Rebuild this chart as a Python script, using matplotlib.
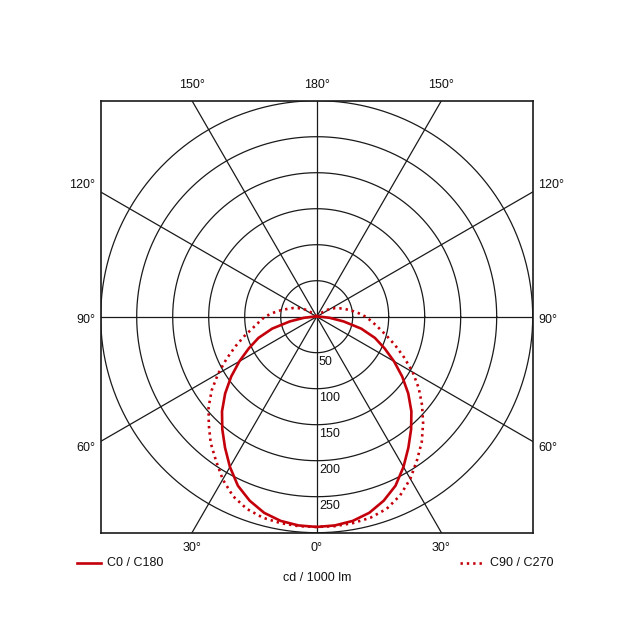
import numpy as np
import matplotlib
matplotlib.use("Agg")
import matplotlib.pyplot as plt

plt.rcParams['font.family'] = ['Liberation Sans', 'DejaVu Sans']

# ---- data (cd / 1000 lm), gamma angle from nadir ----
gamma_c0 = [0, 5, 10, 15, 20, 25, 30, 35, 40, 45, 50, 55, 60, 65, 70, 75, 80, 85, 90, 95]
c0_c180 = [292, 291, 288, 282, 272, 259, 241, 222, 204, 186, 166, 145, 124, 104, 86, 64, 38, 18, 5, 0]

gamma_c90 = [0, 5, 10, 15, 20, 25, 30, 35, 40, 45, 50, 55, 60, 65, 70, 75, 80, 85, 90,
             95, 100, 105, 110, 115, 120, 125, 130, 135, 140]
c90 = [292, 292, 291, 289, 284, 274, 260, 243, 227, 209, 191, 173, 154, 134, 116, 100, 87, 77, 68,
       58, 49, 41, 34, 28, 22, 15, 8, 3, 0]
c270 = [292, 292, 291, 289, 284, 275, 261, 244, 229, 212, 196, 178, 158, 138, 120, 104, 90, 80, 72,
        61, 51, 42, 35, 28, 22, 15, 8, 3, 0]

ring_values = [50, 100, 150, 200, 250, 300]
ring_labels = ["50", "100", "150", "200", "250"]
spoke_angles = [0, 30, 60, 90, 120, 150]
legend_labels = ["C0 / C180", "C90 / C270"]
unit_label = "cd / 1000 lm"

RED = "#c4000a"
GRID = "#1a1a1a"
R = 300

W = H = 634
fig = plt.figure(figsize=(W / 100, H / 100), dpi=100)
left, right, top, bottom = 100.7, 532.7, 100.7, 532.7
rect = [left / W, 1 - bottom / H, (right - left) / W, (bottom - top) / H]
ax = fig.add_axes(rect)
ax.set_xlim(-R, R)
ax.set_ylim(-R, R)
ax.set_aspect('equal')
ax.set_xticks([])
ax.set_yticks([])
for s in ax.spines.values():
    s.set_linewidth(1.2)
    s.set_color(GRID)

# rings
t = np.linspace(0, 2 * np.pi, 721)
for rv in ring_values:
    ax.plot(rv * np.cos(t), rv * np.sin(t), color=GRID, lw=0.9, zorder=1)

# spokes (through centre, clipped by box)
L = 1000
for a in spoke_angles:
    ar = np.deg2rad(a)
    ax.plot([-L * np.sin(ar), L * np.sin(ar)], [L * np.cos(ar), -L * np.cos(ar)],
            color=GRID, lw=0.9, zorder=1)

# ring labels
for rv, lab in zip(ring_values, ring_labels):
    ax.text(3, -(rv + 12.5), lab, fontsize=9, color="#111", ha='left', va='center', zorder=3)

# polar overlay for the intensity curves
pax = fig.add_axes(rect, projection='polar', frameon=False)
pax.set_theta_zero_location('S')
pax.set_theta_direction(1)
pax.set_rlim(0, R)
pax.grid(False)
pax.set_xticks([])
pax.set_yticks([])
pax.patch.set_alpha(0)


def curve(gam, right_vals, left_vals):
    g = np.deg2rad(np.asarray(gam, float))
    th = np.concatenate([-g[::-1], g[1:]])
    r = np.concatenate([np.asarray(left_vals, float)[::-1], np.asarray(right_vals, float)[1:]])
    return th, r


th, r = curve(gamma_c0, c0_c180, c0_c180)
pax.plot(th, r, color=RED, lw=1.9, zorder=4)
th, r = curve(gamma_c90, c90, c270)
pax.plot(th, r, color=RED, lw=1.9, ls=(0, (0.9, 1.5)), zorder=4)

# angle labels
fs = 9
tc = "#111"
k = np.tan(np.deg2rad(30)) * R
ax.text(-k, 322, "150°", fontsize=fs, color=tc, ha='center', va='center', clip_on=False)
ax.text(0, 322, "180°", fontsize=fs, color=tc, ha='center', va='center', clip_on=False)
ax.text(k, 322, "150°", fontsize=fs, color=tc, ha='center', va='center', clip_on=False)
ax.text(-k, -321, "30°", fontsize=fs, color=tc, ha='center', va='center', clip_on=False)
ax.text(0, -321, "0°", fontsize=fs, color=tc, ha='center', va='center', clip_on=False)
ax.text(k, -321, "30°", fontsize=fs, color=tc, ha='center', va='center', clip_on=False)
for lab, yy in [("120°", 183), ("90°", -4.5), ("60°", -183)]:
    ax.text(-307.5, yy, lab, fontsize=fs, color=tc, ha='right', va='center', clip_on=False)
    ax.text(307.5, yy, lab, fontsize=fs, color=tc, ha='left', va='center', clip_on=False)

# legend
ly = 1 - 563 / H
fig.add_artist(plt.Line2D([77 / W, 101 / W], [ly, ly], color=RED, lw=1.9))
fig.text(107 / W, ly, legend_labels[0], fontsize=fs, color=tc, ha='left', va='center')
fig.add_artist(plt.Line2D([460 / W, 484 / W], [ly, ly], color=RED, lw=1.9, ls=(0, (0.9, 1.5))))
fig.text(490 / W, ly, legend_labels[1], fontsize=fs, color=tc, ha='left', va='center')
fig.text(317 / W, 1 - 578 / H, unit_label, fontsize=fs, color=tc, ha='center', va='center')

fig.savefig("out.png", dpi=100, facecolor='white')
